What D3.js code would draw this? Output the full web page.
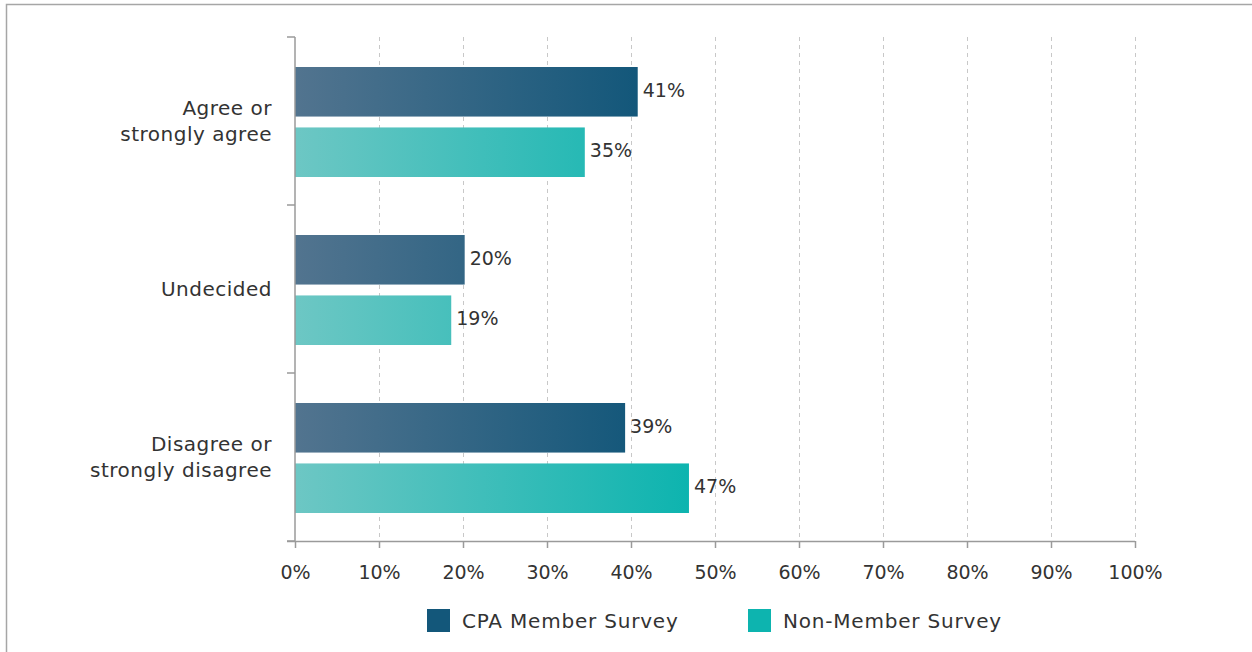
<!DOCTYPE html>
<html>
<head>
<meta charset="utf-8">
<script src="https://cdn.jsdelivr.net/npm/d3@7"></script>
<style>
  body { margin: 0; background: #fff; }
  text { font-family: "DejaVu Sans", sans-serif; fill: #333; }
</style>
</head>
<body>
<svg id="chart" width="1252" height="652"></svg>
<script>
// data
const categories = [['Agree or', 'strongly agree'], ['Undecided'], ['Disagree or', 'strongly disagree']]
const seriesNames = ['CPA Member Survey', 'Non-Member Survey']
const cpaValues = [40.8, 20.2, 39.3]
const nonMemberValues = [34.5, 18.6, 46.9]
const valueLabels = [['41%', '35%'], ['20%', '19%'], ['39%', '47%']]
const xTicks = [0, 10, 20, 30, 40, 50, 60, 70, 80, 90, 100]

const colours = {
    cpa: { start: '#52748f', end: '#13577a' },
    non: { start: '#6dc7c4', end: '#0db4af' }
}

const svg = d3.select('#chart')

// frame (top + left only)
svg.append('path')
    .attr('d', 'M6.5,652 V4.5 H1252')
    .attr('fill', 'none')
    .attr('stroke', '#a6a6a6')
    .attr('stroke-width', 1.5)

const plotLeft = 295, plotRight = 1135, plotTop = 37, plotBottom = 541

const x = d3.scaleLinear().domain([0, 100]).range([plotLeft, plotRight])
const y = d3.scaleBand().domain(d3.range(categories.length)).range([plotTop, plotBottom])
const inner = d3.scaleBand().domain([0, 1]).range([30, y.bandwidth() - 28]).paddingInner(0.18)

// gradients per series
const defs = svg.append('defs')
const seriesData = [
    { key: 'cpa', values: cpaValues },
    { key: 'non', values: nonMemberValues }
]
seriesData.forEach(s => {
    const g = defs.append('linearGradient')
        .attr('id', 'grad-' + s.key)
        .attr('gradientUnits', 'userSpaceOnUse')
        .attr('x1', x(0)).attr('x2', x(d3.max(s.values)))
        .attr('y1', 0).attr('y2', 0)
    g.append('stop').attr('offset', 0).attr('stop-color', colours[s.key].start)
    g.append('stop').attr('offset', 1).attr('stop-color', colours[s.key].end)
})

// dashed grid
svg.append('g')
    .selectAll('line')
    .data(xTicks.slice(1))
    .join('line')
    .attr('x1', d => x(d) + 0.5).attr('x2', d => x(d) + 0.5)
    .attr('y1', plotTop).attr('y2', plotBottom)
    .attr('stroke', '#c8c8c8')
    .attr('stroke-dasharray', '4,4')

// bars
const groups = svg.append('g')
    .selectAll('g')
    .data(categories.map((c, i) => i))
    .join('g')
    .attr('transform', i => 'translate(0,' + y(i) + ')')

groups.selectAll('rect')
    .data(i => [cpaValues[i], nonMemberValues[i]].map((v, j) => ({ v, j, i })))
    .join('rect')
    .attr('x', x(0))
    .attr('y', d => inner(d.j))
    .attr('width', d => x(d.v) - x(0))
    .attr('height', inner.bandwidth())
    .attr('fill', d => 'url(#grad-' + seriesData[d.j].key + ')')

groups.selectAll('text.val')
    .data(i => [cpaValues[i], nonMemberValues[i]].map((v, j) => ({ v, j, i })))
    .join('text')
    .attr('class', 'val')
    .attr('x', d => x(d.v) + 5)
    .attr('y', d => inner(d.j) + inner.bandwidth() / 2)
    .attr('dy', '0.26em')
    .attr('font-size', 19)
    .text(d => valueLabels[d.i][d.j])

// category labels
groups.append('text')
    .attr('text-anchor', 'end')
    .attr('font-size', 20)
    .attr('letter-spacing', 0.5)
    .attr('y', y.bandwidth() / 2)
    .selectAll('tspan')
    .data(i => categories[i].map((t, k) => ({ t, k, n: categories[i].length })))
    .join('tspan')
    .attr('x', 272)
    .attr('dy', d => d.k === 0 ? ((-(d.n - 1) * 13) + 7 + 'px') : '26px')
    .text(d => d.t)

// x axis
const xAxis = d3.axisBottom(x)
    .tickValues(xTicks)
    .tickSize(7)
    .tickPadding(18)
    .tickFormat(d => d + '%')
const axisG = svg.append('g')
    .attr('transform', 'translate(0,' + plotBottom + ')')
    .call(xAxis)
axisG.select('.domain').attr('d', 'M287,0.5H' + plotRight)
axisG.selectAll('.domain, .tick line').attr('stroke', '#9a9a9a').attr('stroke-width', 1.5)
axisG.selectAll('.tick text')
    .attr('font-size', 19)
    .attr('font-family', '"DejaVu Sans", sans-serif')
    .attr('fill', '#333')

// y axis line and ticks at band edges
const yEdges = categories.map((c, i) => y(i)).concat([plotBottom])
svg.append('line')
    .attr('x1', plotLeft).attr('x2', plotLeft)
    .attr('y1', plotTop).attr('y2', plotBottom)
    .attr('stroke', '#9a9a9a').attr('stroke-width', 1.5)
svg.append('g')
    .selectAll('line')
    .data(yEdges)
    .join('line')
    .attr('x1', 287).attr('x2', plotLeft)
    .attr('y1', d => d).attr('y2', d => d)
    .attr('stroke', '#9a9a9a').attr('stroke-width', 1.5)

// legend
const legendX = [427, 748]
const legend = svg.append('g')
    .selectAll('g')
    .data(seriesNames)
    .join('g')
    .attr('transform', (d, i) => 'translate(' + legendX[i] + ',609)')
legend.append('rect')
    .attr('width', 23).attr('height', 23)
    .attr('fill', (d, i) => colours[seriesData[i].key].end)
legend.append('text')
    .attr('x', 35).attr('y', 11.5).attr('dy', '0.36em')
    .attr('font-size', 20)
    .attr('letter-spacing', 0.8)
    .text(d => d)
</script>
</body>
</html>
